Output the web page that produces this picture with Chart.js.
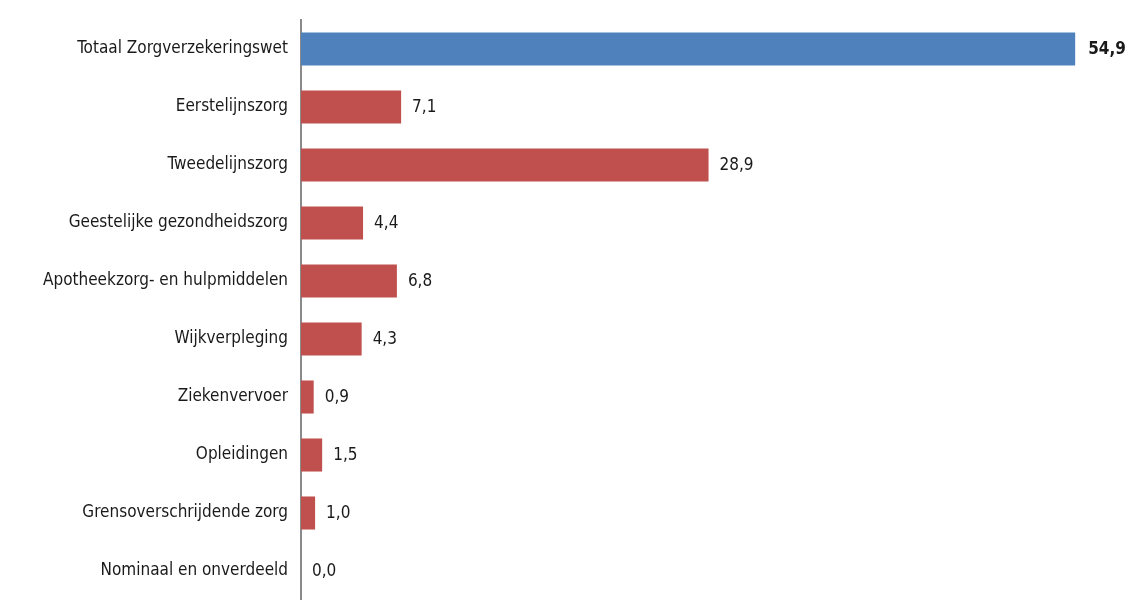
<!DOCTYPE html>
<html>
<head>
<meta charset="utf-8">
<script src="https://cdn.jsdelivr.net/npm/chart.js@4.4.1/dist/chart.umd.min.js"></script>
<style>
  html, body { margin: 0; padding: 0; background: #fff; }
  #wrap { width: 1133px; height: 600px; position: relative; }
</style>
</head>
<body>
<div id="wrap"><canvas id="chart"></canvas></div>
<script>
// Zvw-uitgaven per sector (mld euro)
const CATEGORIES = [
  'Totaal Zorgverzekeringswet',
  'Eerstelijnszorg',
  'Tweedelijnszorg',
  'Geestelijke gezondheidszorg',
  'Apotheekzorg- en hulpmiddelen',
  'Wijkverpleging',
  'Ziekenvervoer',
  'Opleidingen',
  'Grensoverschrijdende zorg',
  'Nominaal en onverdeeld'
];
const VALUES = [54.9, 7.1, 28.9, 4.4, 6.8, 4.3, 0.9, 1.5, 1.0, 0.0];

const BLUE = '#4f81bd', RED = '#c0504d';
const FONT = '"DejaVu Sans Condensed", "DejaVu Sans", sans-serif';

const fmt = v => v.toFixed(1).replace('.', ',');

// value labels right of each bar
const valueLabels = {
  id: 'valueLabels',
  afterDatasetsDraw(chart) {
    const { ctx } = chart;
    const meta = chart.getDatasetMeta(0);
    ctx.save();
    ctx.textBaseline = 'middle';
    ctx.textAlign = 'left';
    ctx.fillStyle = '#1a1a1a';
    meta.data.forEach((bar, i) => {
      ctx.font = (i === 0 ? 'bold ' : '') + '17px ' + FONT;
      ctx.fillText(fmt(VALUES[i]), bar.x + (i === 0 ? 13 : 11), bar.y + 1);
    });
    ctx.restore();
  }
};

new Chart(document.getElementById('chart').getContext('2d'), {
  type: 'bar',
  data: {
    labels: CATEGORIES,
    datasets: [{
      data: VALUES,
      backgroundColor: VALUES.map((_, i) => i === 0 ? BLUE : RED),
      borderWidth: 0,
      barPercentage: 0.57,
      categoryPercentage: 1
    }]
  },
  options: {
    indexAxis: 'y',
    responsive: true, maintainAspectRatio: false,
    animation: false,
    layout: { padding: { top: 20, right: 0, bottom: 0, left: 0 } },
    plugins: { legend: { display: false }, tooltip: { enabled: false } },
    scales: {
      x: { display: false, min: 0, max: 59 },
      y: {
        grid: { display: false },
        border: { display: true, color: '#8a8a8a', width: 2 },
        ticks: { color: '#1a1a1a', padding: 5, font: { family: FONT, size: 17 } },
        afterFit: s => { s.width = 301; s.paddingTop = 0; s.paddingBottom = 0; }
      }
    }
  },
  plugins: [valueLabels]
});
</script>
</body>
</html>
